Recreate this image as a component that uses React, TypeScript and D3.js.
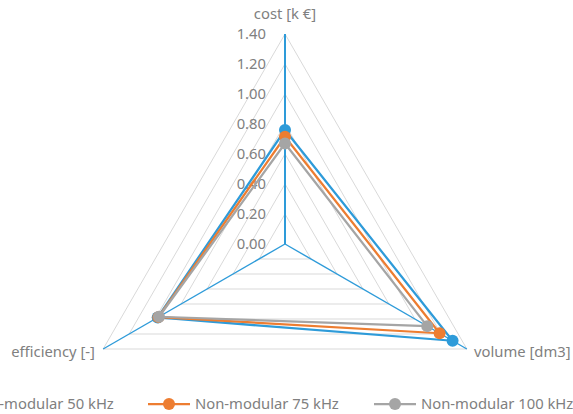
import React from "react";
import * as d3 from "d3";

const axisLabels = ["cost [k €]", "volume [dm3]", "efficiency [-]"];
const tickValues = [0, 0.2, 0.4, 0.6, 0.8, 1.0, 1.2, 1.4];
const seriesNames = ["Non-modular 50 kHz", "Non-modular 75 kHz", "Non-modular 100 kHz"];
const seriesColors = ["#2E9BD9", "#ED7D31", "#A5A5A5"];
const values50 = [0.76, 1.29, 0.98];
const values75 = [0.715, 1.19, 0.975];
const values100 = [0.67, 1.095, 0.97];
const seriesValues = [values50, values75, values100];

const W = 573;
const H = 414;
const cx = 285;
const cy = 244;
const R = 210;
const FONT = "'Noto Sans', sans-serif";
const TEXT = "#808080";
const FS = 14.8;
const legendX = [-77, 148, 374];
const legendY = 404;

export default function App() {
  const r = d3.scaleLinear().domain([0, 1.4]).range([0, R]);
  const n = axisLabels.length;
  const ang = (i: number) => (i * 2 * Math.PI) / n; // from 12 o'clock clockwise
  const pt = (i: number, v: number): [number, number] => [
    cx + r(v) * Math.sin(ang(i)),
    cy - r(v) * Math.cos(ang(i)),
  ];
  const radial = d3
    .lineRadial<number>()
    .angle((_, i) => ang(i))
    .radius((d) => r(d))
    .curve(d3.curveLinearClosed);
  const fmt = d3.format(".2f");

  return (
    <svg
      width={W}
      height={H}
      style={{ position: "absolute", left: 0, top: 0, background: "#fff" }}
      fontFamily={FONT}
    >
      {/* grid */}
      {tickValues.slice(1).map((t) => (
        <polygon
          key={t}
          points={d3.range(n).map((i) => pt(i, t).join(",")).join(" ")}
          fill="none"
          stroke="#D9D9D9"
          strokeWidth={1}
        />
      ))}
      {/* spokes */}
      {d3.range(n).map((i) => {
        const [x, y] = pt(i, 1.4);
        return (
          <line
            key={i}
            x1={cx}
            y1={cy}
            x2={x}
            y2={y}
            stroke="#2E9BD9"
            strokeWidth={i === 0 ? 2 : 1.4}
          />
        );
      })}
      {/* tick labels */}
      {tickValues.map((t) => (
        <text
          key={t}
          x={cx - 19}
          y={cy - r(t)}
          dy="0.35em"
          textAnchor="end"
          fontSize={FS}
          fill={TEXT}
        >
          {fmt(t)}
        </text>
      ))}
      {/* axis labels */}
      <text x={cx} y={14} dy="0.35em" textAnchor="middle" fontSize={FS} fill={TEXT}>
        {axisLabels[0]}
      </text>
      <text x={474} y={352} dy="0.35em" textAnchor="start" fontSize={FS} fill={TEXT}>
        {axisLabels[1]}
      </text>
      <text x={95} y={352} dy="0.35em" textAnchor="end" fontSize={FS} fill={TEXT}>
        {axisLabels[2]}
      </text>
      {/* series */}
      {seriesValues.map((vals, s) => (
        <g key={s}>
          <path
            d={radial(vals) || ""}
            transform={`translate(${cx},${cy})`}
            fill="none"
            stroke={seriesColors[s]}
            strokeWidth={2.25}
            strokeLinejoin="round"
          />
          {vals.map((v, i) => {
            const [x, y] = pt(i, v);
            return <circle key={i} cx={x} cy={y} r={6} fill={seriesColors[s]} />;
          })}
        </g>
      ))}
      {/* legend */}
      {seriesNames.map((name, s) => (
        <g key={name} transform={`translate(${legendX[s]},${legendY})`}>
          <line x1={0} x2={42} y1={0} y2={0} stroke={seriesColors[s]} strokeWidth={2.25} />
          <circle cx={21} cy={0} r={6} fill={seriesColors[s]} />
          <text x={47} y={0} dy="0.35em" fontSize={FS} fill={TEXT}>
            {name}
          </text>
        </g>
      ))}
    </svg>
  );
}
